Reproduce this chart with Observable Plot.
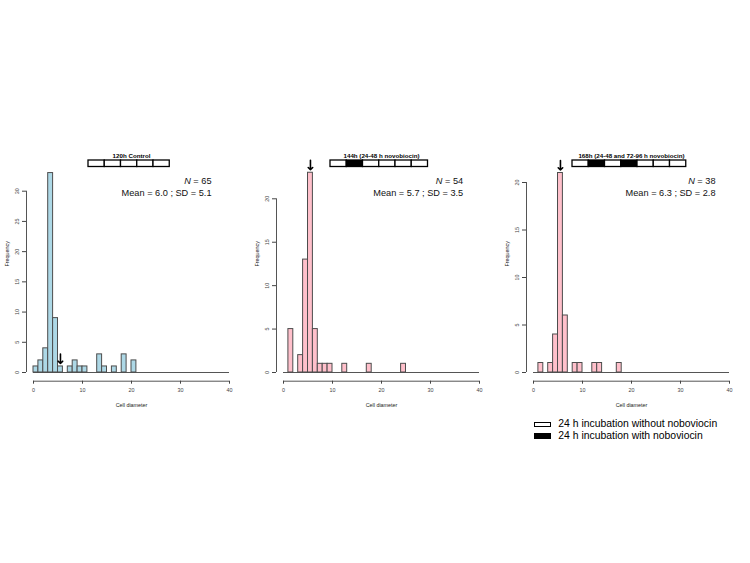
<!DOCTYPE html>
<html><head><meta charset="utf-8">
<script src="https://cdn.jsdelivr.net/npm/d3@7"></script>
<script src="https://cdn.jsdelivr.net/npm/@observablehq/plot@0.6"></script>
<style>
html,body{margin:0;padding:0;background:#fff;}
#root{position:relative;width:750px;height:563px;overflow:hidden;background:#fff;font-family:"Liberation Sans",Arial,sans-serif;}
#root svg{max-width:none !important;background:none !important;overflow:visible;}
.leg-box{position:absolute;box-sizing:border-box;}
.leg-txt{position:absolute;font-size:10.4px;line-height:12px;white-space:nowrap;color:#000;}
</style></head><body><div id="root"></div>
<script>
// ---------------- data ----------------
const binWidth = 1;
const countsControl120 = [1, 2, 4, 33, 9, 1, 0, 1, 2, 1, 1, 0, 0, 3, 1, 0, 1, 0, 3, 0, 2];
const countsNovo144 = [0, 5, 0, 2, 13, 23, 5, 1, 1, 1, 0, 0, 1, 0, 0, 0, 0, 1, 0, 0, 0, 0, 0, 0, 1];
const countsNovo168 = [0, 1, 0, 1, 4, 21, 6, 0, 1, 1, 0, 0, 1, 1, 0, 0, 0, 1];
const panelTitles = ["120h Control", "144h (24-48 h novobiocin)", "168h (24-48 and 72-96 h novobiocin)"];
const sampleN = [65, 54, 38];
const meanValues = ["6.0", "5.7", "6.3"];
const sdValues = ["5.1", "3.5", "2.8"];
// 24 h blocks: 0 = without novobiocin, 1 = with novobiocin
const schedule120 = [0, 0, 0, 0, 0];
const schedule144 = [0, 1, 0, 0, 0, 0];
const schedule168 = [0, 1, 0, 1, 0, 0, 0];
const xTicks = [0, 10, 20, 30, 40];
const yTicks120 = [0, 5, 10, 15, 20, 25, 30];
const yTicks144 = [0, 5, 10, 15, 20];
const yTicks168 = [0, 5, 10, 15, 20];
const arrowX = 5.5;
const xLabel = "Cell diameter";
const yLabel = "Frequency";
const legendLabels = ["24 h incubation without noboviocin", "24 h incubation with noboviocin"];

// ---------------- layout / style ----------------
const allCounts = [countsControl120, countsNovo144, countsNovo168];
const allSchedules = [schedule120, schedule144, schedule168];
const allYTicks = [yTicks120, yTicks144, yTicks168];
const fills = ["#ADD8E6", "#FFC0CB", "#FFC0CB"];
const panelLeft = [0, 250, 500];
const yTopPx = [190.7, 198.3, 182];
const statRight = [211, 212.7, 215];
const W = 250, H = 420;
const FONT = "'Liberation Sans', Arial, Helvetica, sans-serif";
const root = document.getElementById("root");

function place(node, left, top, w) {
  const d = document.createElement("div");
  d.style.position = "absolute";
  d.style.left = left + "px";
  d.style.top = top + "px";
  if (w) d.style.width = w + "px";
  d.appendChild(node);
  root.appendChild(d);
}

for (let i = 0; i < 3; i++) {
  const counts = allCounts[i];
  const ticks = allYTicks[i];
  const yMax = ticks[ticks.length - 1];
  const bins = counts.map((c, j) => ({x1: j * binWidth, x2: (j + 1) * binWidth, count: c})).filter(d => d.count > 0);
  const k = (372 - yTopPx[i]) / yMax; // px per unit
  const peak = counts[Math.floor(arrowX / binWidth)];
  const statText = ["N = " + sampleN[i], "Mean = " + meanValues[i] + " ; SD = " + sdValues[i]];

  const chart = Plot.plot({
    width: W, height: H,
    marginLeft: 26, marginRight: 21, marginTop: 0, marginBottom: H - 380.7,
    x: {domain: [0, 40], range: [33, 229]},
    y: {domain: [0, yMax], range: [372, yTopPx[i]]},
    style: {fontFamily: FONT, fontSize: "5.4px", background: "none", overflow: "visible"},
    marks: [
      Plot.ruleY([0], {x1: 0, x2: 40, stroke: "#555", strokeWidth: 1}),
      Plot.rect(bins, {x1: "x1", x2: "x2", y1: 0, y2: "count", fill: fills[i], stroke: "#4d4d4d", strokeWidth: 1}),
      // x axis
      Plot.ruleY([0], {x1: 0, x2: 40, dy: 8.7, stroke: "#555", strokeWidth: 1}),
      Plot.axisX({ticks: xTicks, tickSize: 3, tickPadding: 4, label: null, color: "#444", fontSize: 5.4}),
      // y axis
      Plot.ruleX([0], {y1: 0, y2: yMax, dx: -7, stroke: "#555", strokeWidth: 1}),
      Plot.axisY({ticks: ticks, tickSize: 4, tickPadding: 3.5, tickRotate: -90, label: null, color: "#444", fontSize: 5.4}),
      Plot.text([xLabel], {x: 20, frameAnchor: "top", dy: 403, fill: "#222", fontSize: 5.4}),
      Plot.text([yLabel], {frameAnchor: "top-left", dx: -21.5, dy: 266, rotate: -90, fill: "#222", fontSize: 5.4}),
      Plot.text([panelTitles[i]], {x: 20, frameAnchor: "top", dy: 153.5, fontWeight: "bold", fontSize: 6.2, fill: "#000"}),
      Plot.text([statText[0]], {frameAnchor: "top-left", dx: statRight[i] - 26, dy: 177, textAnchor: "end", fontSize: 9.2, fill: "#111"}),
      Plot.text([statText[1]], {frameAnchor: "top-left", dx: statRight[i] - 26, dy: 189, textAnchor: "end", fontSize: 9.2, fill: "#111"}),
      Plot.arrow([{x: arrowX, h: peak}], {x: "x", y1: d => d.h + 12.5 / k, y2: d => d.h + 3 / k, headAngle: 90, headLength: 5.5, strokeWidth: 1.6, stroke: "#000"})
    ]
  });
  // italic N
  chart.querySelectorAll("text").forEach(t => {
    if (t.textContent.startsWith("N = ")) {
      const rest = t.textContent.slice(1);
      while (t.firstChild) t.removeChild(t.firstChild);
      const ts = document.createElementNS("http://www.w3.org/2000/svg", "tspan");
      ts.setAttribute("font-style", "italic");
      ts.textContent = "N";
      t.appendChild(ts);
      t.appendChild(document.createTextNode(rest));
    }
  });
  place(chart, panelLeft[i], 0, W);

  // timeline of 24 h blocks
  const sched = allSchedules[i];
  const n = sched.length, cell = 16.25, pad = 3;
  const cells = sched.map((s, j) => ({a: j, b: j + 1, fill: s ? "#000" : "#fff"}));
  const tl = Plot.plot({
    width: n * cell + 2 * pad, height: 12.5,
    marginLeft: pad, marginRight: pad, marginTop: 3, marginBottom: 3,
    x: {domain: [0, n], range: [pad, pad + n * cell], axis: null},
    color: {type: "identity"},
    style: {background: "none", overflow: "visible"},
    marks: [Plot.rect(cells, {x1: "a", x2: "b", fill: "fill", stroke: "#000", strokeWidth: 1.3})]
  });
  place(tl, panelLeft[i] + 33 + 98 - 2.3 - n * cell / 2 - pad, 157, n * cell + 2 * pad);
}

// legend
const legTops = [424.3, 436];
legendLabels.forEach((lab, j) => {
  const b = document.createElement("div");
  b.className = "leg-box";
  b.style.left = "534.3px";
  b.style.width = "16.7px";
  b.style.top = (legTops[j] - 2.8) + "px";
  b.style.height = "5.6px";
  b.style.border = "1.3px solid #000";
  b.style.background = j === 0 ? "#fff" : "#000";
  root.appendChild(b);
  const t = document.createElement("div");
  t.className = "leg-txt";
  t.style.left = "558.3px";
  t.style.top = (legTops[j] - 6) + "px";
  t.textContent = lab;
  root.appendChild(t);
});
</script></body></html>
